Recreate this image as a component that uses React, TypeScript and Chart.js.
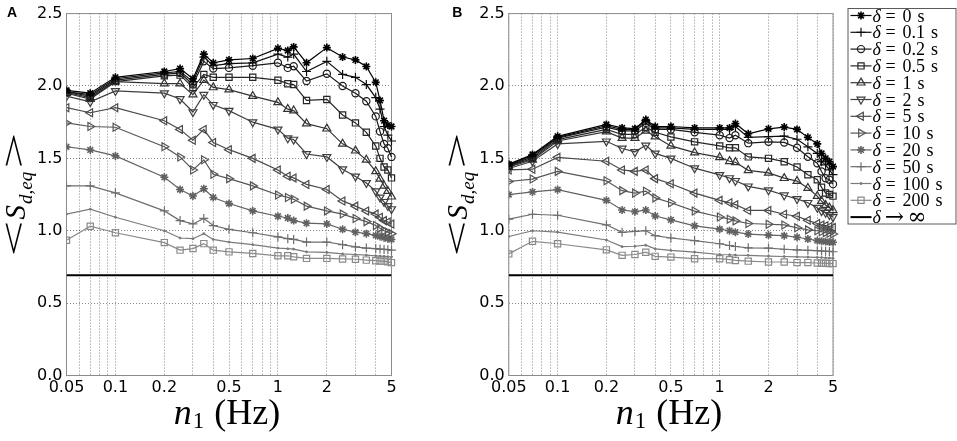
import React, { useEffect, useRef } from 'react';
import { Chart, registerables } from 'chart.js';
import { drawPoint } from 'chart.js/helpers';

Chart.register(...registerables);

// ---------- data ----------
const FREQ_HZ = [0.05, 0.07, 0.1, 0.2, 0.25, 0.3, 0.35, 0.4, 0.5, 0.7, 1, 1.15, 1.25, 1.5, 2, 2.5, 3, 3.5, 4, 4.25, 4.5, 4.75, 5];
const DELTA_LABELS = ['0', '0.1', '0.2', '0.5', '1', '2', '5', '10', '20', '50', '100', '200'];

// Panel A
const A_D0 = [1.97, 1.95, 2.06, 2.10, 2.12, 2.05, 2.22, 2.16, 2.18, 2.19, 2.26, 2.245, 2.27, 2.16, 2.265, 2.2, 2.18, 2.135, 2.025, 1.90, 1.76, 1.73, 1.72];
const A_D01 = [1.96, 1.94, 2.05, 2.09, 2.10, 2.03, 2.20, 2.14, 2.155, 2.16, 2.22, 2.20, 2.22, 2.10, 2.17, 2.08, 2.06, 2.01, 1.92, 1.84, 1.72, 1.66, 1.62];
const A_D02 = [1.96, 1.93, 2.04, 2.08, 2.09, 2.01, 2.17, 2.12, 2.125, 2.14, 2.16, 2.125, 2.136, 2.034, 2.084, 2.0, 1.95, 1.895, 1.79, 1.685, 1.60, 1.57, 1.51];
const A_D05 = [1.955, 1.92, 2.03, 2.07, 2.075, 1.99, 2.08, 2.06, 2.06, 2.06, 2.04, 2.016, 2.01, 1.90, 1.907, 1.80, 1.745, 1.68, 1.585, 1.50, 1.44, 1.42, 1.365];
const A_D1 = [1.95, 1.91, 2.03, 2.016, 2.016, 1.94, 2.04, 1.99, 1.975, 1.93, 1.887, 1.84, 1.83, 1.74, 1.705, 1.60, 1.553, 1.49, 1.41, 1.358, 1.31, 1.274, 1.235];
const A_D2 = [1.93, 1.89, 1.966, 1.95, 1.91, 1.82, 1.94, 1.87, 1.83, 1.75, 1.70, 1.64, 1.63, 1.53, 1.51, 1.425, 1.375, 1.33, 1.274, 1.23, 1.20, 1.172, 1.15];
const A_D5 = [1.85, 1.815, 1.85, 1.76, 1.70, 1.625, 1.70, 1.61, 1.56, 1.50, 1.42, 1.376, 1.365, 1.32, 1.285, 1.206, 1.17, 1.137, 1.115, 1.093, 1.07, 1.06, 1.047];
const A_D10 = [1.745, 1.72, 1.715, 1.58, 1.51, 1.42, 1.49, 1.39, 1.36, 1.31, 1.247, 1.23, 1.217, 1.17, 1.137, 1.115, 1.085, 1.063, 1.036, 1.018, 1.0, 0.99, 0.98];
const A_D20 = [1.58, 1.558, 1.517, 1.37, 1.285, 1.24, 1.29, 1.23, 1.188, 1.137, 1.10, 1.088, 1.07, 1.052, 1.047, 1.01, 0.99, 0.98, 0.968, 0.96, 0.952, 0.945, 0.94];
const A_D50 = [1.31, 1.31, 1.262, 1.137, 1.07, 1.047, 1.085, 1.036, 1.01, 0.986, 0.957, 0.945, 0.94, 0.922, 0.922, 0.904, 0.888, 0.88, 0.877, 0.873, 0.871, 0.869, 0.866];
const A_D100 = [1.115, 1.149, 1.093, 1.0, 0.95, 0.945, 0.98, 0.94, 0.922, 0.904, 0.88, 0.876, 0.873, 0.854, 0.85, 0.84, 0.836, 0.831, 0.827, 0.825, 0.823, 0.821, 0.82];
const A_D200 = [0.934, 1.031, 0.986, 0.918, 0.866, 0.877, 0.911, 0.866, 0.854, 0.843, 0.827, 0.827, 0.82, 0.809, 0.809, 0.805, 0.803, 0.797, 0.793, 0.79, 0.79, 0.785, 0.78];

// Panel B
const B_D0 = [1.46, 1.527, 1.652, 1.734, 1.71, 1.705, 1.768, 1.72, 1.72, 1.71, 1.71, 1.71, 1.74, 1.67, 1.704, 1.716, 1.70, 1.645, 1.60, 1.534, 1.50, 1.477, 1.443];
const B_D01 = [1.455, 1.52, 1.645, 1.725, 1.70, 1.70, 1.76, 1.71, 1.71, 1.70, 1.70, 1.70, 1.72, 1.645, 1.65, 1.654, 1.632, 1.58, 1.534, 1.477, 1.455, 1.42, 1.387];
const B_D02 = [1.45, 1.51, 1.64, 1.715, 1.69, 1.69, 1.745, 1.70, 1.70, 1.68, 1.66, 1.64, 1.66, 1.605, 1.614, 1.61, 1.573, 1.511, 1.466, 1.409, 1.363, 1.352, 1.322];
const B_D05 = [1.445, 1.50, 1.63, 1.70, 1.665, 1.665, 1.715, 1.68, 1.648, 1.614, 1.586, 1.573, 1.573, 1.51, 1.50, 1.477, 1.44, 1.387, 1.352, 1.30, 1.261, 1.25, 1.239];
const B_D1 = [1.44, 1.49, 1.62, 1.685, 1.64, 1.64, 1.69, 1.65, 1.586, 1.54, 1.507, 1.48, 1.473, 1.417, 1.40, 1.363, 1.343, 1.295, 1.239, 1.205, 1.177, 1.159, 1.141];
const B_D2 = [1.43, 1.48, 1.60, 1.618, 1.568, 1.545, 1.59, 1.534, 1.50, 1.432, 1.386, 1.364, 1.345, 1.307, 1.28, 1.245, 1.22, 1.193, 1.159, 1.136, 1.125, 1.109, 1.095];
const B_D5 = [1.42, 1.425, 1.507, 1.48, 1.42, 1.41, 1.42, 1.36, 1.325, 1.26, 1.21, 1.193, 1.18, 1.14, 1.14, 1.114, 1.10, 1.072, 1.05, 1.04, 1.035, 1.028, 1.023];
const B_D10 = [1.34, 1.357, 1.41, 1.345, 1.277, 1.26, 1.273, 1.227, 1.193, 1.136, 1.095, 1.08, 1.068, 1.05, 1.045, 1.04, 1.02, 1.006, 1.0, 0.993, 0.987, 0.982, 0.977];
const B_D20 = [1.25, 1.268, 1.284, 1.21, 1.143, 1.132, 1.143, 1.102, 1.075, 1.034, 1.011, 1.0, 0.99, 0.977, 0.97, 0.966, 0.955, 0.943, 0.932, 0.928, 0.925, 0.922, 0.92];
const B_D50 = [1.08, 1.114, 1.107, 1.041, 0.989, 0.995, 1.0, 0.966, 0.95, 0.932, 0.91, 0.898, 0.891, 0.882, 0.88, 0.872, 0.868, 0.865, 0.862, 0.86, 0.858, 0.857, 0.855];
const B_D100 = [0.96, 1.0, 0.99, 0.936, 0.89, 0.893, 0.90, 0.875, 0.864, 0.852, 0.836, 0.834, 0.832, 0.83, 0.825, 0.822, 0.82, 0.818, 0.816, 0.815, 0.813, 0.812, 0.81];
const B_D200 = [0.84, 0.927, 0.91, 0.868, 0.83, 0.836, 0.852, 0.823, 0.818, 0.807, 0.807, 0.80, 0.795, 0.79, 0.784, 0.784, 0.78, 0.78, 0.777, 0.776, 0.775, 0.774, 0.773];

// δ → ∞ limit
const INF_X = [0.05, 5];
const INF_Y = [0.693, 0.693];

// axes
const X_GRID = [0.05, 0.06, 0.07, 0.08, 0.09, 0.1, 0.2, 0.3, 0.4, 0.5, 0.6, 0.7, 0.8, 0.9, 1, 2, 3, 4, 5];
const X_LABELED = [0.05, 0.1, 0.2, 0.5, 1, 2, 5];
const Y_TICKS = [0, 0.5, 1, 1.5, 2, 2.5];

const PANEL_A = [A_D0, A_D01, A_D02, A_D05, A_D1, A_D2, A_D5, A_D10, A_D20, A_D50, A_D100, A_D200];
const PANEL_B = [B_D0, B_D01, B_D02, B_D05, B_D1, B_D2, B_D5, B_D10, B_D20, B_D50, B_D100, B_D200];

// ---------- styles ----------
type St = { color: string; point: string; rot: number; r: number; pw: number; fill?: string };
const SERIES_STYLE: St[] = [
  { color: '#000000', point: 'star', rot: 0, r: 4, pw: 1.6 },
  { color: '#0e0e0e', point: 'cross', rot: 0, r: 4.5, pw: 1.2 },
  { color: '#1a1a1a', point: 'circle', rot: 0, r: 3.6, pw: 1.2 },
  { color: '#262626', point: 'rect', rot: 0, r: 4.4, pw: 1.2 },
  { color: '#333333', point: 'triangle', rot: 0, r: 4.6, pw: 1.2 },
  { color: '#3f3f3f', point: 'triangle', rot: 180, r: 4.6, pw: 1.2 },
  { color: '#4a4a4a', point: 'triangle', rot: 270, r: 4.6, pw: 1.2 },
  { color: '#565656', point: 'triangle', rot: 90, r: 4.6, pw: 1.2 },
  { color: '#626262', point: 'star', rot: 0, r: 4, pw: 1.6 },
  { color: '#6e6e6e', point: 'cross', rot: 0, r: 4.5, pw: 1.2 },
  { color: '#7a7a7a', point: 'circle', rot: 0, r: 1, pw: 1, fill: '#7a7a7a' },
  { color: '#8a8a8a', point: 'rect', rot: 0, r: 4.4, pw: 1.2 },
];

const TICK_FONT = { family: '"DejaVu Sans", sans-serif', size: 16 };

function makeDatasets(values: number[][]) {
  const ds: any[] = values.map((vals, i) => {
    const st = SERIES_STYLE[i];
    return {
      label: `δ = ${DELTA_LABELS[i]} s`,
      data: FREQ_HZ.map((f, j) => ({ x: f, y: vals[j] })),
      borderColor: st.color,
      backgroundColor: st.color,
      borderWidth: 1.2,
      pointStyle: st.point,
      pointRotation: st.rot,
      pointRadius: st.r,
      pointBorderColor: st.color,
      pointBackgroundColor: st.fill ?? 'rgba(0,0,0,0)',
      pointBorderWidth: st.pw,
      tension: 0,
      clip: { left: 0, top: 6, right: 6, bottom: 6 },
    };
  });
  ds.push({
    label: 'δ → ∞',
    data: INF_X.map((x, j) => ({ x, y: INF_Y[j] })),
    borderColor: '#000000',
    backgroundColor: '#000000',
    borderWidth: 2,
    pointRadius: 0,
    tension: 0,
  });
  return ds;
}

function drawYTitle(ctx: CanvasRenderingContext2D, baseX: number, cy: number) {
  ctx.save();
  ctx.translate(baseX, cy);
  ctx.rotate(-Math.PI / 2);
  ctx.fillStyle = '#000';
  const chevFont = '34px "Liberation Serif", serif';
  const sFont = 'italic 29px "Liberation Serif", serif';
  const subFont = 'italic 19px "Liberation Serif", serif';
  const stretch = 1.9;
  ctx.font = chevFont;
  const wLt = ctx.measureText('<').width * stretch;
  const wGt = ctx.measureText('>').width * stretch;
  ctx.font = sFont;
  const wS = ctx.measureText('S').width;
  ctx.font = subFont;
  const wSub = ctx.measureText('d,eq').width;
  const g1 = 1, g2 = 3;
  const total = wLt + g1 + wS + 1 + wSub + g2 + wGt;
  let x = -total / 2;
  ctx.save();
  ctx.font = chevFont;
  ctx.textBaseline = 'middle';
  ctx.textAlign = 'center';
  ctx.translate(x + wLt / 2, -8.5);
  ctx.scale(stretch, 1);
  ctx.fillText('<', 0, 0);
  ctx.restore();
  x += wLt + g1;
  ctx.textAlign = 'left';
  ctx.textBaseline = 'alphabetic';
  ctx.font = sFont;
  ctx.fillText('S', x, 0);
  x += wS + 1;
  ctx.font = subFont;
  ctx.fillText('d,eq', x, 7);
  x += wSub + g2;
  ctx.save();
  ctx.font = chevFont;
  ctx.textBaseline = 'middle';
  ctx.textAlign = 'center';
  ctx.translate(x + wGt / 2, -8.5);
  ctx.scale(stretch, 1);
  ctx.fillText('>', 0, 0);
  ctx.restore();
  ctx.restore();
}

function drawXTitle(ctx: CanvasRenderingContext2D, cx: number, baseY: number) {
  ctx.save();
  ctx.fillStyle = '#000';
  ctx.textBaseline = 'alphabetic';
  ctx.textAlign = 'left';
  const nFont = 'italic 36px "Liberation Serif", serif';
  const oneFont = '23px "Liberation Serif", serif';
  const hzFont = '36px "Liberation Serif", serif';
  ctx.font = nFont;
  const wN = ctx.measureText('n').width;
  ctx.font = oneFont;
  const w1 = ctx.measureText('1').width;
  ctx.font = hzFont;
  const wHz = ctx.measureText('(Hz)').width;
  const gap = 10;
  const total = wN + 1 + w1 + gap + wHz;
  let x = cx - total / 2 - 2;
  ctx.font = nFont;
  ctx.fillText('n', x, baseY);
  x += wN + 1;
  ctx.font = oneFont;
  ctx.fillText('1', x, baseY + 4);
  x += w1 + gap;
  ctx.font = hzFont;
  ctx.fillText('(Hz)', x, baseY);
  ctx.restore();
}

function drawLegend(ctx: CanvasRenderingContext2D, datasets: any[], left: number) {
  const top = 8.5;
  const w = 108;
  const h = 215.5;
  ctx.save();
  ctx.fillStyle = '#ffffff';
  ctx.fillRect(left, top, w, h);
  ctx.strokeStyle = '#5a5a5a';
  ctx.lineWidth = 1;
  ctx.strokeRect(left + 0.5, top, w, h);
  const rowH = 16.8;
  for (let i = 0; i < datasets.length; i++) {
    const d = datasets[i];
    const y = 15.5 + i * rowH;
    ctx.strokeStyle = d.borderColor;
    ctx.lineWidth = d.borderWidth;
    ctx.beginPath();
    ctx.moveTo(left + 3, y);
    ctx.lineTo(left + 24, y);
    ctx.stroke();
    if (d.pointRadius > 0) {
      ctx.strokeStyle = d.pointBorderColor;
      ctx.fillStyle = d.pointBackgroundColor;
      ctx.lineWidth = d.pointBorderWidth;
      drawPoint(ctx, { pointStyle: d.pointStyle, rotation: d.pointRotation, radius: d.pointRadius, borderWidth: d.pointBorderWidth } as any, left + 13.5, y);
    }
    ctx.fillStyle = '#000';
    ctx.textBaseline = 'alphabetic';
    const base = y + 6;
    ctx.font = 'italic 18px "Liberation Serif", serif';
    ctx.textAlign = 'left';
    ctx.fillText('δ', left + 25, base);
    if (i < DELTA_LABELS.length) {
      ctx.font = '18px "Liberation Serif", serif';
      ctx.textAlign = 'center';
      ctx.fillText('=', left + 43, base);
      ctx.textAlign = 'left';
      const num = DELTA_LABELS[i];
      ctx.fillText(num, left + 55, base);
      const wn = ctx.measureText(num).width;
      ctx.fillText('s', left + 55 + wn + 6, base);
    } else {
      ctx.font = '23px "DejaVu Serif", serif';
      ctx.textAlign = 'center';
      ctx.fillText('→', left + 47, base + 1);
      ctx.textAlign = 'left';
      ctx.fillText('∞', left + 60, base + 1);
    }
  }
  ctx.restore();
}

const decorPlugin = {
  id: 'decor',
  beforeDatasetsDraw(chart: any) {
    const { ctx, chartArea: a } = chart;
    ctx.save();
    ctx.strokeStyle = '#8c8c8c';
    ctx.lineWidth = 1;
    ctx.strokeRect(a.left, a.top, a.right - a.left, a.bottom - a.top);
    ctx.restore();
  },
  afterDraw(chart: any, _args: any, opts: any) {
    const { ctx, chartArea: a } = chart;
    ctx.save();
    ctx.fillStyle = '#000';
    ctx.font = 'bold 14px "Liberation Sans", Arial, sans-serif';
    ctx.textBaseline = 'alphabetic';
    ctx.textAlign = 'left';
    ctx.fillText(opts.panel, a.left - opts.labelOffset, 17);
    ctx.restore();
    drawYTitle(ctx, a.left - 41.5, (a.top + a.bottom) / 2);
    drawXTitle(ctx, (a.left + a.right) / 2, 424);
    if (opts.legend) drawLegend(ctx, chart.config.data.datasets, a.right + 14.5);
  },
};

function makeConfig(values: number[][], panel: string, yWidth: number, padRight: number, legend: boolean, labelOffset: number): any {
  return {
    type: 'line',
    data: { datasets: makeDatasets(values) },
    plugins: [decorPlugin],
    options: {
      animation: false,
      responsive: false,
      events: [],
      layout: { padding: { left: 0, top: 0, right: padRight, bottom: 0 } },
      plugins: {
        legend: { display: false },
        tooltip: { enabled: false },
        decor: { panel, legend, labelOffset },
      },
      scales: {
        x: {
          type: 'logarithmic',
          min: 0.05,
          max: 5,
          afterBuildTicks: (scale: any) => {
            scale.ticks = X_GRID.map((v) => ({ value: v }));
          },
          afterFit: (scale: any) => {
            scale.height = 65.5;
          },
          ticks: {
            autoSkip: false,
            maxRotation: 0,
            minRotation: 0,
            padding: 3,
            color: '#000',
            font: TICK_FONT,
            callback: (v: any) => (X_LABELED.includes(Number(v)) ? String(Number(v)) : ''),
          },
          grid: { color: 'rgba(0,0,0,0.6)', lineWidth: 0.8, drawTicks: false },
          border: { display: false, dash: [1, 2] },
        },
        y: {
          type: 'linear',
          min: 0,
          max: 2.5,
          afterBuildTicks: (scale: any) => {
            scale.ticks = Y_TICKS.map((v) => ({ value: v }));
          },
          afterFit: (scale: any) => {
            scale.width = yWidth;
          },
          ticks: {
            padding: 4,
            color: '#000',
            font: TICK_FONT,
            callback: (v: any) => Number(v).toFixed(1),
          },
          grid: { color: 'rgba(0,0,0,0.6)', lineWidth: 0.8, drawTicks: false },
          border: { display: false, dash: [1, 2] },
        },
      },
    },
  };
}

export default function App() {
  const refA = useRef<HTMLCanvasElement | null>(null);
  const refB = useRef<HTMLCanvasElement | null>(null);
  useEffect(() => {
    document.body.style.margin = '0';
    const ca = new Chart(refA.current as HTMLCanvasElement, makeConfig(PANEL_A, 'A', 66.5, 445 - 391.5, false, 59.5));
    const cb = new Chart(refB.current as HTMLCanvasElement, makeConfig(PANEL_B, 'B', 63.8, 512 - 388, true, 56.6));
    return () => {
      ca.destroy();
      cb.destroy();
    };
  }, []);
  return (
    <div style={{ position: 'absolute', left: 0, top: 0, width: 957, height: 441, background: '#fff' }}>
      <div style={{ position: 'absolute', left: 0, top: 0, width: 445, height: 441 }}>
        <canvas ref={refA} width={445} height={441} style={{ display: 'block' }} />
      </div>
      <div style={{ position: 'absolute', left: 445, top: 0, width: 512, height: 441 }}>
        <canvas ref={refB} width={512} height={441} style={{ display: 'block' }} />
      </div>
    </div>
  );
}
